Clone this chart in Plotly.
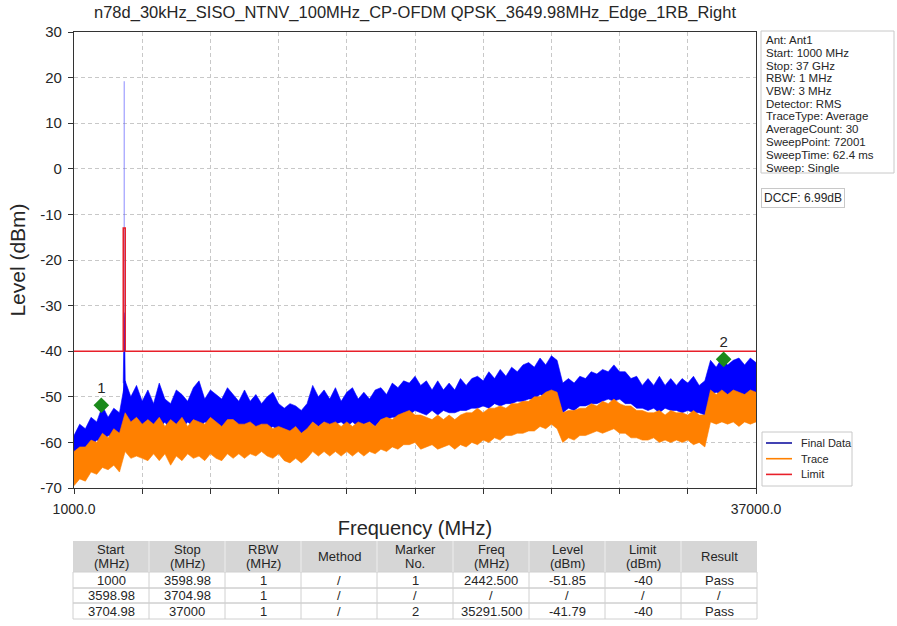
"""Conducted spurious emission plot (n78d, edge 1RB right) rebuilt in Plotly."""

import plotly.graph_objects as go

W, H = 897, 626
FONT = "Liberation Sans, Arial, sans-serif"
TEXT = "#262626"
BLUE = "#0000ff"
ORANGE = "#ff8000"
RED = "#e8202a"
GREEN = "#1a8a1a"
BOX = "#c8c8c8"

TITLE = "n78d_30kHz_SISO_NTNV_100MHz_CP-OFDM QPSK_3649.98MHz_Edge_1RB_Right"

# sweep sampling grid of the envelopes (MHz), one point every 300 MHz
FREQ = list(range(1000, 37001, 300))

# Final Data (blue) upper / lower envelope, dBm
BLUE_HI = [
    -58.5, -56.0, -57.0, -54.5, -55.5, -52.0, -54.5, -52.5, -53.5, -46.5,
    -50.0, -47.5, -51.0, -48.5, -51.5, -47.0, -50.5, -51.5, -48.5, -49.5,
    -51.0, -48.0, -46.5, -50.5, -48.5, -49.5, -50.5, -48.0, -49.5, -51.0,
    -48.5, -51.0, -49.5, -51.5, -50.0, -49.0, -51.5, -52.5, -51.5, -52.0,
    -53.0, -51.5, -47.5, -50.0, -48.5, -50.5, -48.0, -51.0, -49.0, -48.0,
    -50.5, -49.0, -50.5, -48.5, -48.0, -49.5, -47.0, -48.0, -46.5, -47.0,
    -45.5, -47.5, -46.5, -48.5, -46.5, -48.5, -47.0, -48.5, -46.0, -47.5,
    -46.0, -45.5, -46.5, -44.5, -46.0, -44.0, -45.5, -43.5, -44.5, -43.0,
    -42.5, -43.5, -41.5, -43.0, -41.0, -42.0, -47.0, -46.0, -47.0, -45.5,
    -46.0, -44.5, -45.0, -44.0, -44.5, -43.0, -44.5, -44.5, -46.0, -45.5,
    -47.5, -46.0, -47.5, -45.5, -47.5, -46.0, -47.5, -46.0, -47.0, -45.5,
    -47.5, -46.5, -42.0, -43.5, -41.5, -43.0, -42.0, -41.5, -43.0, -41.5,
    -42.5,
]
BLUE_LO = [
    -63.0, -62.0, -61.5, -61.0, -59.5, -60.0, -58.5, -59.0, -58.0, -55.5,
    -56.5, -55.5, -57.0, -56.0, -56.0, -57.0, -55.5, -57.5, -56.0, -57.0,
    -55.5, -56.5, -57.0, -55.5, -56.0, -56.5, -57.0, -55.5, -56.0, -56.5,
    -57.0, -56.0, -57.0, -56.0, -57.5, -56.5, -57.5, -57.0, -58.0, -57.0,
    -58.0, -57.5, -55.5, -56.5, -55.5, -56.5, -56.0, -55.5, -56.5, -55.5,
    -56.5, -56.0, -55.5, -56.5, -55.0, -55.0, -54.5, -54.5, -53.5, -54.0,
    -53.0, -53.5, -54.0, -53.0, -54.0, -53.0, -53.5, -53.5, -53.0, -53.0,
    -52.5, -52.5, -52.0, -52.5, -51.5, -52.0, -51.5, -51.5, -51.0, -51.0,
    -50.5, -50.5, -49.5, -50.0, -49.0, -49.5, -53.5, -52.5, -53.0, -52.0,
    -52.0, -51.5, -51.5, -51.0, -50.5, -51.0, -50.5, -51.5, -51.5, -52.5,
    -52.5, -53.0, -52.5, -53.5, -52.5, -53.0, -53.0, -53.5, -53.0, -53.5,
    -53.5, -54.0, -49.5, -49.0, -49.5, -49.5, -49.0, -49.5, -49.5, -49.0,
    -49.5,
]

# Trace (orange) upper / lower envelope, dBm
ORANGE_HI = [
    -62.0, -61.0, -61.0, -59.5, -60.0, -58.0, -59.0, -57.0, -58.0, -53.5,
    -55.5, -54.5, -56.0, -55.0, -56.0, -54.5, -56.5, -55.0, -56.0, -54.5,
    -56.5, -55.0, -55.5, -56.0, -54.5, -55.5, -56.5, -55.0, -55.0, -56.0,
    -56.0, -55.5, -56.5, -56.0, -56.0, -57.0, -56.5, -57.0, -57.5, -56.5,
    -58.0, -57.0, -55.5, -56.5, -55.5, -56.0, -55.5, -56.5, -55.5, -56.5,
    -55.5, -56.0, -55.5, -56.5, -55.0, -54.5, -55.0, -54.0, -53.5, -53.0,
    -54.0, -54.0, -54.5, -55.0, -54.0, -55.0, -54.0, -55.0, -54.0, -53.5,
    -53.5, -52.5, -53.5, -52.5, -52.5, -52.0, -52.5, -51.5, -51.5, -51.0,
    -51.0, -50.0, -50.0, -49.0, -48.5, -49.0, -53.5, -53.0, -53.0, -52.5,
    -52.5, -51.5, -52.0, -51.0, -51.5, -50.5, -51.5, -52.0, -52.0, -53.0,
    -53.0, -53.5, -53.5, -53.0, -54.0, -53.0, -53.5, -53.5, -54.0, -53.0,
    -54.0, -54.0, -48.5, -49.5, -48.5, -49.5, -48.5, -49.0, -49.5, -48.5,
    -49.0,
]
ORANGE_LO = [
    -69.5, -68.0, -68.5, -66.5, -67.0, -65.5, -66.0, -65.0, -66.5, -62.0,
    -63.5, -63.0, -63.5, -64.0, -62.5, -64.0, -62.5, -65.0, -63.0, -64.0,
    -62.5, -63.5, -63.0, -64.0, -62.5, -63.5, -64.0, -62.5, -63.5, -62.5,
    -63.5, -62.5, -63.0, -62.0, -63.0, -63.5, -62.5, -64.0, -64.5, -63.5,
    -64.5, -63.5, -62.0, -63.0, -62.0, -63.0, -62.0, -63.0, -62.0, -63.0,
    -62.0, -63.0, -62.0, -62.5, -61.5, -62.0, -61.0, -61.5, -60.5, -60.5,
    -60.0, -61.5, -61.0, -60.5, -61.5, -61.0, -60.5, -61.5, -60.5, -61.0,
    -60.0, -60.5, -59.5, -60.0, -59.0, -59.5, -58.5, -58.5, -58.0, -58.0,
    -57.5, -57.5, -56.5, -57.0, -56.0, -57.0, -60.0, -59.0, -59.5, -58.5,
    -58.5, -58.0, -57.5, -58.0, -57.5, -57.0, -58.0, -58.0, -59.0, -59.0,
    -59.5, -59.5, -59.0, -60.0, -59.5, -60.0, -59.5, -60.0, -59.5, -60.5,
    -60.0, -61.0, -55.5, -56.0, -55.5, -56.0, -55.5, -56.5, -55.5, -56.0,
    -55.5,
]

# carrier region (blue), drawn on its own
CARRIER_FREQ = [3598.98, 3615, 3630, 3649.98, 3665, 3685, 3704.98]
CARRIER_HI = [-47.0, -35.0, -32.5, -31.5, -33.0, -38.0, -47.0]
CARRIER_LO = [-57.0, -56.0, -55.5, -55.0, -55.5, -55.5, -55.0]
CARRIER_PEAK = [-31.5, 19.2]

LIMIT_FREQ = [1000, 3598.98, 3598.98, 3704.98, 3704.98, 37000]
LIMIT_LEVEL = [-40, -40, -13, -13, -40, -40]

INFO_LINES = [
    "Ant: Ant1", "Start: 1000 MHz", "Stop: 37 GHz", "RBW: 1 MHz", "VBW: 3 MHz",
    "Detector: RMS", "TraceType: Average", "AverageCount: 30",
    "SweepPoint: 72001", "SweepTime: 62.4 ms", "Sweep: Single",
]
DCCF = "DCCF: 6.99dB"
LEGEND = [("Final Data", "#1414a0"), ("Trace", ORANGE), ("Limit", RED)]

# result table
HEADERS = ["Start<br>(MHz)", "Stop<br>(MHz)", "RBW<br>(MHz)", "Method", "Marker<br>No.",
           "Freq<br>(MHz)", "Level<br>(dBm)", "Limit<br>(dBm)", "Result"]
COL_START = ["1000", "3598.98", "3704.98"]
COL_STOP = ["3598.98", "3704.98", "37000"]
COL_RBW = ["1", "1", "1"]
COL_METHOD = ["/", "/", "/"]
COL_MARKER = ["1", "/", "2"]
COL_FREQ = ["2442.500", "/", "35291.500"]
COL_LEVEL = ["-51.85", "/", "-41.79"]
COL_LIMIT = ["-40", "/", "-40"]
COL_RESULT = ["Pass", "/", "Pass"]

X_TICKS = [1000 + 3600 * k for k in range(11)]
Y_TICKS = list(range(-70, 31, 10))

# pixel geometry of the page
L, R, T, B = 74, 141, 32, 7
PLOT_BOTTOM = 488
TAB_X0, TAB_X1 = 73, 757
TAB_ROWS = [541, 572, 588, 603, 619]
PW, PH = W - L - R, H - T - B


def px_x(px):
    return (px - L) / PW


def px_y(py):
    return (H - B - py) / PH


def band(x, hi, lo, color):
    return go.Scatter(
        x=list(x) + list(x)[::-1], y=list(hi) + list(lo)[::-1],
        fill="toself", fillcolor=color, mode="lines",
        line=dict(color=color, width=0.6), showlegend=False, hoverinfo="skip",
    )


def text(fig, x, y, s, size=12, anchor="center"):
    fig.add_annotation(x=px_x(x), y=px_y(y), xref="paper", yref="paper", text=s,
                       showarrow=False, xanchor=anchor, yanchor="middle",
                       font=dict(size=size, color=TEXT))


def rect(fig, x0, x1, y0, y1, line=BOX, fill=None, width=1):
    fig.add_shape(type="rect", xref="paper", yref="paper",
                  x0=px_x(x0), x1=px_x(x1), y0=px_y(y1), y1=px_y(y0),
                  line=dict(color=line, width=width), fillcolor=fill, layer="above")


fig = go.Figure()
fig.add_trace(band(FREQ, BLUE_HI, BLUE_LO, BLUE))
fig.add_trace(band(CARRIER_FREQ, CARRIER_HI, CARRIER_LO, BLUE))
fig.add_trace(go.Scatter(
    x=[CARRIER_FREQ[3]] * 2, y=CARRIER_PEAK, mode="lines",
    line=dict(color="rgba(90,90,255,0.7)", width=1), showlegend=False,
))
fig.add_trace(band(FREQ, ORANGE_HI, ORANGE_LO, ORANGE))
fig.add_trace(go.Scatter(
    x=LIMIT_FREQ, y=LIMIT_LEVEL, mode="lines",
    line=dict(color=RED, width=1.5), showlegend=False,
))

# markers from the result table
mk = [i for i, m in enumerate(COL_MARKER) if m != "/"]
fig.add_trace(go.Scatter(
    x=[float(COL_FREQ[i]) for i in mk], y=[float(COL_LEVEL[i]) for i in mk],
    text=[COL_MARKER[i] for i in mk], mode="markers+text",
    marker=dict(symbol="diamond", size=12, color=GREEN),
    textposition="top center", textfont=dict(size=15, color=TEXT),
    showlegend=False,
))

# info panel
rect(fig, 761, 894, 31, 173, fill="white")
for i, line in enumerate(INFO_LINES):
    text(fig, 764, 40 + 12.75 * i, line, size=11.5, anchor="left")
fig.add_annotation(x=px_x(761), y=px_y(198), xref="paper", yref="paper", text=DCCF,
                   showarrow=False, xanchor="left", yanchor="middle",
                   font=dict(size=12, color=TEXT), bordercolor=BOX,
                   borderwidth=1, borderpad=2, bgcolor="white")

# legend, drawn by hand
rect(fig, 762, 852, 432, 486, fill="white")
for i, (name, color) in enumerate(LEGEND):
    y = 443 + 15.7 * i
    fig.add_shape(type="line", xref="paper", yref="paper", x0=px_x(766), x1=px_x(792),
                  y0=px_y(y), y1=px_y(y), line=dict(color=color, width=1.6), layer="above")
    text(fig, 799, y, name, size=11, anchor="left")

# result table
cols = [COL_START, COL_STOP, COL_RBW, COL_METHOD, COL_MARKER,
        COL_FREQ, COL_LEVEL, COL_LIMIT, COL_RESULT]
cw = (TAB_X1 - TAB_X0) / len(cols)
fig.add_shape(type="rect", xref="paper", yref="paper",
              x0=px_x(TAB_X0), x1=px_x(TAB_X1), y0=px_y(TAB_ROWS[1]), y1=px_y(TAB_ROWS[0]),
              line=dict(width=0), fillcolor="#d6d6d6")
for r in range(1, len(TAB_ROWS) - 1):
    rect(fig, TAB_X0, TAB_X1, TAB_ROWS[r], TAB_ROWS[r + 1], line="#d0d0d0")
for c in range(1, len(cols)):
    xc = TAB_X0 + cw * c
    fig.add_shape(type="line", xref="paper", yref="paper", x0=px_x(xc), x1=px_x(xc),
                  y0=px_y(TAB_ROWS[0]), y1=px_y(TAB_ROWS[1]),
                  line=dict(color="#eeeeee", width=1))
    fig.add_shape(type="line", xref="paper", yref="paper", x0=px_x(xc), x1=px_x(xc),
                  y0=px_y(TAB_ROWS[1]), y1=px_y(TAB_ROWS[-1]),
                  line=dict(color="#d0d0d0", width=1))
for c, (head, values) in enumerate(zip(HEADERS, cols)):
    xc = TAB_X0 + cw * (c + 0.5)
    parts = head.split("<br>")
    mid = (TAB_ROWS[0] + TAB_ROWS[1]) / 2
    for j, part in enumerate(parts):
        text(fig, xc, mid + (j - (len(parts) - 1) / 2) * 14, part, size=13)
    for r, v in enumerate(values):
        text(fig, xc, (TAB_ROWS[r + 1] + TAB_ROWS[r + 2]) / 2, v, size=13)

axis_common = dict(
    showline=True, linecolor="#333333", linewidth=1.3, mirror=True,
    ticks="outside", ticklen=5, tickcolor="#333333", ticklabelstandoff=3,
    showgrid=True, gridcolor="#c8c8c8", griddash="4px,3px", gridwidth=1,
    zeroline=False, automargin=False,
)

fig.update_layout(
    width=W, height=H,
    margin=dict(l=L, r=R, t=T, b=B),
    paper_bgcolor="white", plot_bgcolor="white",
    font=dict(family=FONT, color=TEXT),
    title=dict(text=TITLE, x=0.5, xref="paper", y=1 - 12 / H, yanchor="middle",
               font=dict(size=16.5, color=TEXT)),
    xaxis=dict(
        range=[1000, 37000], tickvals=X_TICKS,
        ticktext=["1000.0"] + [""] * 9 + ["37000.0"],
        tickfont=dict(size=14, color=TEXT),
        title=dict(text="Frequency (MHz)", font=dict(size=20), standoff=5),
        **axis_common,
    ),
    yaxis=dict(
        range=[-70, 30], domain=[px_y(PLOT_BOTTOM), 1], tickvals=Y_TICKS,
        ticktext=[str(v) for v in Y_TICKS],
        tickfont=dict(size=15, color=TEXT),
        title=dict(text="Level (dBm)", font=dict(size=21), standoff=8),
        **axis_common,
    ),
    showlegend=False,
)

# the page body has an 8px default margin; drop it so the figure fills the window
fig.write_html("out.html", config={"displayModeBar": False},
               post_script="document.body.style.margin = '0';")
